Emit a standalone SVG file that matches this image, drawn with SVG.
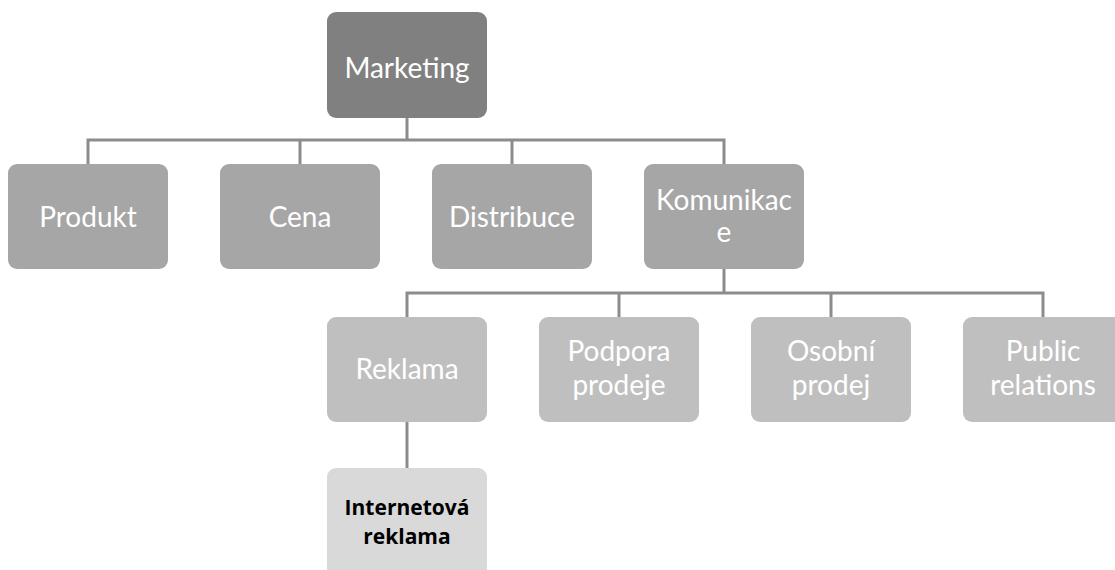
<svg xmlns="http://www.w3.org/2000/svg" width="1115" height="570" viewBox="0 0 1115 570">
<style>
.box{stroke:none}
.l0{fill:#808080}
.l1{fill:#a6a6a6}
.l2{fill:#bfbfbf}
.l3{fill:#d9d9d9}
.t{font-family:Lato,"Open Sans","Liberation Sans",sans-serif;font-size:28px;fill:#ffffff;text-anchor:middle}
.tb{font-family:"Open Sans","Liberation Sans",sans-serif;font-size:21px;font-weight:bold;fill:#000000;text-anchor:middle}
.c{fill:none;stroke:#8c8c8c;stroke-width:3}
</style>
<rect width="1115" height="570" fill="#ffffff"/>
<g id="connectors">
<path class="c" d="M407 118 V140 M88 164 V140 H724 V164 M300 140 V164 M512 140 V164"/>
<path class="c" d="M724 269 V293 M407 317 V293 H1043 V317 M619 293 V317 M831 293 V317"/>
<path class="c" d="M407 422 V468"/>
</g>
<g id="marketing"><rect class="box l0" x="327" y="12" width="160" height="106" rx="9"/><text class="t" x="407" y="78">Marketing</text></g>
<g id="produkt"><rect class="box l1" x="8" y="164" width="160" height="105" rx="9"/><text class="t" x="88" y="227">Produkt</text></g>
<g id="cena"><rect class="box l1" x="220" y="164" width="160" height="105" rx="9"/><text class="t" x="300" y="227">Cena</text></g>
<g id="distribuce"><rect class="box l1" x="432" y="164" width="160" height="105" rx="9"/><text class="t" x="512" y="227">Distribuce</text></g>
<g id="komunikace"><rect class="box l1" x="644" y="164" width="160" height="105" rx="9"/><text class="t" x="724" y="210">Komunikac</text><text class="t" x="724" y="242">e</text></g>
<g id="reklama"><rect class="box l2" x="327" y="317" width="160" height="105" rx="9"/><text class="t" x="407" y="379">Reklama</text></g>
<g id="podpora"><rect class="box l2" x="539" y="317" width="160" height="105" rx="9"/><text class="t" x="619" y="361">Podpora</text><text class="t" x="619" y="395">prodeje</text></g>
<g id="osobni"><rect class="box l2" x="751" y="317" width="160" height="105" rx="9"/><text class="t" x="831" y="361">Osobní</text><text class="t" x="831" y="395">prodej</text></g>
<g id="public"><rect class="box l2" x="963" y="317" width="160" height="105" rx="9"/><text class="t" x="1043" y="361">Public</text><text class="t" x="1043" y="395">relations</text></g>
<g id="internetova"><rect class="box l3" x="327" y="468" width="160" height="110" rx="9"/><text class="tb" x="407" y="515">Internetová</text><text class="tb" x="407" y="544">reklama</text></g>
</svg>
